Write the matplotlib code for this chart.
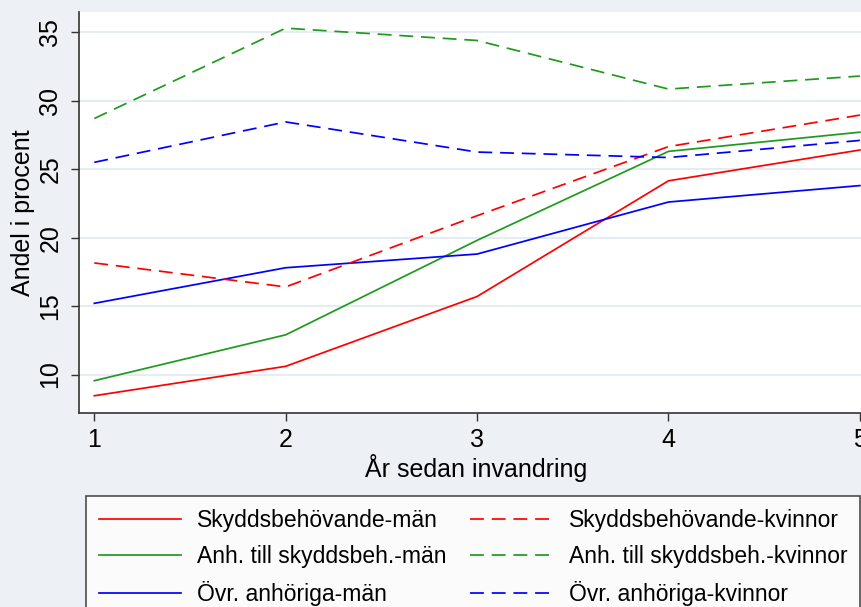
import matplotlib.pyplot as plt
from matplotlib.lines import Line2D

plt.rcParams['font.family'] = ['Liberation Sans', 'DejaVu Sans']

# years since immigration
years = [1, 2, 3, 4, 5]

# share in percent, per group
skydd_man = [8.45, 10.6, 15.7, 24.15, 26.4]
skydd_kv = [18.15, 16.4, 21.6, 26.65, 28.95]
anh_man = [9.55, 12.9, 19.8, 26.3, 27.7]
anh_kv = [28.7, 35.3, 34.4, 30.85, 31.8]
ovr_man = [15.2, 17.8, 18.8, 22.6, 23.8]
ovr_kv = [25.5, 28.45, 26.25, 25.85, 27.1]

labels_man = ["Skyddsbehövande-män", "Anh. till skyddsbeh.-män", "Övr. anhöriga-män"]
labels_kv = ["Skyddsbehövande-kvinnor", "Anh. till skyddsbeh.-kvinnor", "Övr. anhöriga-kvinnor"]
colors = ["#ff0000", "#1f9a1f", "#0000ff"]
yticks = [10, 15, 20, 25, 30, 35]

bg = "#edf0f5"
fig = plt.figure(figsize=(8.62, 6.07), dpi=100, facecolor=bg)
# axes runs off the right edge like the cropped screenshot
ax = fig.add_axes([79 / 862, 194 / 607, 800 / 862, 401 / 607])
ax.set_facecolor("white")

lw = 1.25
dash = (8.0, 4.5)
for ys, c in zip([skydd_man, anh_man, ovr_man], colors):
    ax.plot(years, ys, color=c, lw=lw)
for ys, c in zip([skydd_kv, anh_kv, ovr_kv], colors):
    ax.plot(years, ys, color=c, lw=lw, dashes=dash)

ax.set_xlim(0.92, 5.1)
ax.set_ylim(7.19, 36.48)
ax.set_xticks(years)
ax.set_yticks(yticks)
ax.set_yticklabels([str(t) for t in yticks], rotation=90, va="center")
ax.grid(axis="y", color="#e6ecf3", lw=1.5)
ax.set_axisbelow(True)

for s in ["top", "right"]:
    ax.spines[s].set_visible(False)
for s in ["left", "bottom"]:
    ax.spines[s].set_color("#333333")
    ax.spines[s].set_linewidth(1.2)
ax.tick_params(length=6, width=1.0, color="#333333", labelsize=18)
ax.tick_params(axis="x", pad=5)
ax.tick_params(axis="y", pad=6)

ax.set_ylabel("Andel i procent", fontsize=18)
ax.set_xlabel("År sedan invandring", fontsize=18, va="top")
ax.yaxis.set_label_coords(-0.055, 0.5)
ax.xaxis.set_label_coords(0.496, -0.102)

handles = [Line2D([], [], color=c, lw=lw) for c in colors]
handles += [Line2D([], [], color=c, lw=lw, dashes=dash) for c in colors]
leg = fig.legend(handles, labels_man + labels_kv, ncol=2, loc="upper left",
                 bbox_to_anchor=(86 / 862, 1 - 496 / 607, 774 / 862, 0),
                 mode="expand", fontsize=16.5, frameon=True, fancybox=False,
                 handlelength=3.6, handletextpad=0.7, labelspacing=0.58,
                 borderpad=0.55, borderaxespad=0)
leg.get_frame().set_edgecolor("#222222")
leg.get_frame().set_linewidth(1.2)

fig.savefig("out.png", dpi=100, facecolor=bg)
